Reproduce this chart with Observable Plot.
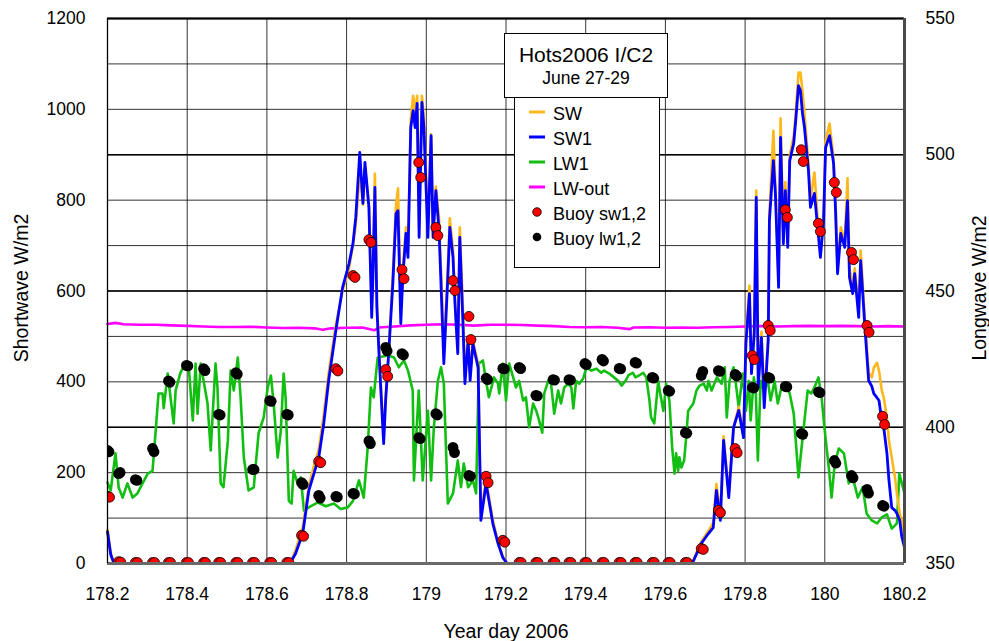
<!DOCTYPE html>
<html>
<head>
<meta charset="utf-8">
<script src="https://cdn.jsdelivr.net/npm/d3@7"></script>
<script src="https://cdn.jsdelivr.net/npm/@observablehq/plot@0.6"></script>
<style>
  html, body { margin: 0; padding: 0; background: #fff; }
  #chart svg { display: block; }
</style>
</head>
<body>
<div id="chart"></div>
<script>
// ---------- DATA ----------
const chartTitle = "Hots2006 I/C2";
const chartSubtitle = "June 27-29";
const xLabel = "Year day 2006";
const leftLabel = "Shortwave W/m2";
const rightLabel = "Longwave W/m2";

const xTicks = [178.2, 178.4, 178.6, 178.8, 179, 179.2, 179.4, 179.6, 179.8, 180, 180.2];
const leftTicks = [0, 200, 400, 600, 800, 1000, 1200];
const leftGrid = [100, 200, 300, 400, 500, 600, 700, 800, 900, 1000, 1100];
const rightTicks = [350, 400, 450, 500, 550];

const legendLabels = ["SW", "SW1", "LW1", "LW-out", "Buoy sw1,2", "Buoy lw1,2"];

// Shortwave (left axis): time, SW and SW1
const swTime = [
  178.200, 178.208, 178.215, 178.233, 178.434, 178.647, 178.660,
  178.672, 178.690, 178.705, 178.718, 178.730, 178.743, 178.755, 178.773, 178.790, 178.806, 178.816, 178.823,
  178.833, 178.841, 178.846, 178.856, 178.863, 178.866, 178.871, 178.876, 178.881, 178.886, 178.893, 178.898, 178.906, 178.916, 178.924, 178.929, 178.936, 178.941, 178.949, 178.954,
  178.961, 178.967, 178.972, 178.977, 178.982, 178.989, 178.994, 179.004, 179.012, 179.017, 179.024, 179.032, 179.039, 179.044, 179.054, 179.059, 179.067, 179.072, 179.079, 179.084,
  179.092, 179.097, 179.105, 179.110, 179.117, 179.130, 179.137, 179.150, 179.167, 179.180, 179.192, 179.203, 179.439, 179.660, 179.670,
  179.690, 179.708, 179.720, 179.728, 179.738, 179.746, 179.759, 179.771, 179.784, 179.796, 179.802, 179.811, 179.816, 179.823, 179.828, 179.833, 179.841, 179.848, 179.858, 179.861,
  179.871, 179.876, 179.884, 179.889, 179.896, 179.901, 179.907, 179.912, 179.922, 179.927, 179.934, 179.939, 179.944, 179.949, 179.959, 179.964, 179.974, 179.982, 179.989, 179.997,
  180.002, 180.012, 180.022, 180.027, 180.032, 180.040, 180.050, 180.057, 180.062, 180.070, 180.075, 180.085, 180.090, 180.100, 180.110, 180.118, 180.123, 180.131, 180.136, 180.143,
  180.148, 180.156, 180.161, 180.168, 180.176, 180.181, 180.188, 180.193, 180.200
];
const sw1Values = [
  70, 20, 3, 0, 0, 0, 3,
  22, 66, 160, 198, 233, 310, 403, 513, 608, 660, 705, 762,
  905, 793, 883, 784, 542, 630, 828, 564, 469, 381, 264, 359, 469, 616, 770, 777, 528, 630, 727, 674,
  960, 997, 960, 1013, 718, 1015, 960, 718, 942, 718, 821, 733, 564, 440, 630, 740, 674, 572, 462, 718,
  528, 396, 491, 403, 484, 431, 95, 176, 88, 44, 13, 0, 0, 0, 5,
  44, 66, 79, 161, 95, 271, 145, 299, 337, 277, 484, 594, 418, 506, 806, 387, 498, 343, 491, 755,
  887, 815, 608, 938, 704, 821, 696, 887, 925, 975, 1052, 1041, 991, 960, 865, 784, 815, 740, 674, 755,
  916, 942, 881, 777, 638, 727, 696, 799, 630, 594, 638, 542, 667, 528, 403, 390, 374, 365, 359, 315,
  299, 242, 183, 123, 117, 110, 95, 60, 35
];
const swValues = [
  75, 25, 3, 0, 0, 0, 4,
  30, 80, 170, 215, 250, 330, 420, 525, 600, 650, 700, 745,
  860, 790, 870, 790, 560, 640, 858, 580, 480, 390, 280, 370, 470, 640, 790, 826, 560, 650, 740, 690,
  980, 1030, 990, 1030, 740, 1030, 980, 740, 945, 730, 830, 760, 600, 460, 650, 760, 690, 580, 470, 740,
  560, 410, 500, 420, 490, 440, 110, 185, 95, 48, 15, 0, 0, 0, 8,
  48, 72, 90, 175, 105, 280, 155, 300, 345, 285, 500, 612, 430, 520, 821, 400, 510, 360, 500, 770,
  953, 830, 620, 980, 720, 840, 710, 900, 940, 990, 1081, 1081, 1040, 990, 880, 800, 861, 760, 690, 770,
  930, 969, 890, 790, 650, 740, 710, 848, 650, 610, 650, 560, 689, 545, 420, 410, 431, 442, 425, 381,
  365, 320, 271, 233, 190, 154, 110, 95, 60
];

// Longwave (right axis): LW1
const lw1Time = [
  178.200, 178.208, 178.220, 178.228, 178.238, 178.250, 178.263, 178.275, 178.288, 178.301, 178.313, 178.321, 178.328, 178.338, 178.341, 178.351,
  178.366, 178.371, 178.383, 178.396, 178.404, 178.414, 178.421, 178.426, 178.434, 178.441, 178.451, 178.459, 178.471, 178.476, 178.484, 178.491,
  178.502, 178.509, 178.517, 178.527, 178.534, 178.542, 178.554, 178.567, 178.579, 178.584, 178.592, 178.602, 178.610, 178.617, 178.627, 178.635,
  178.642, 178.647, 178.655, 178.662, 178.667, 178.677, 178.685, 178.693, 178.705, 178.728, 178.748, 178.768, 178.785, 178.803, 178.816, 178.831,
  178.843, 178.853, 178.861, 178.868, 178.878, 178.904, 178.919, 178.931, 178.944, 178.954, 178.966, 178.969, 178.981, 178.991, 179.004, 179.012,
  179.019, 179.029, 179.037, 179.044, 179.054, 179.067, 179.079, 179.087, 179.094, 179.105, 179.117, 179.125, 179.132, 179.142, 179.150, 179.157,
  179.170, 179.180, 179.183, 179.192, 179.200, 179.208, 179.218, 179.225, 179.233, 179.243, 179.250, 179.258, 179.268, 179.276, 179.283, 179.291,
  179.296, 179.306, 179.313, 179.321, 179.331, 179.338, 179.346, 179.356, 179.364, 179.369, 179.376, 179.384, 179.394, 179.402, 179.414, 179.427,
  179.439, 179.446, 179.459, 179.471, 179.482, 179.490, 179.500, 179.507, 179.518, 179.525, 179.534, 179.544, 179.552, 179.560, 179.564, 179.572,
  179.582, 179.587, 179.595, 179.602, 179.610, 179.617, 179.623, 179.627, 179.632, 179.635, 179.640, 179.647, 179.653, 179.657, 179.670, 179.678,
  179.686, 179.696, 179.704, 179.708, 179.716, 179.729, 179.741, 179.749, 179.754, 179.761, 179.771, 179.776, 179.784, 179.794, 179.802, 179.809,
  179.814, 179.822, 179.827, 179.832, 179.839, 179.847, 179.857, 179.864, 179.874, 179.882, 179.891, 179.899, 179.912, 179.922, 179.934, 179.941,
  179.949, 179.957, 179.966, 179.974, 179.984, 179.992, 179.999, 180.010, 180.017, 180.025, 180.035, 180.048, 180.060, 180.070, 180.083, 180.095,
  180.105, 180.118, 180.131, 180.143, 180.156, 180.168, 180.181, 180.187, 180.200
];
const lw1Values = [
  379.7, 376.8, 390.4, 377.9, 374.2, 379.4, 374.2, 375.7, 379.4, 383, 384, 398.8, 412.4, 412.4, 407, 419.7,
  401.4, 413.5, 420, 423.4, 422, 402.5, 423.4, 405, 423.4, 417.2, 408.7, 391.5, 423.4, 414.6, 379.4, 378,
  395, 420.8, 413.5, 425.6, 411, 389, 376.8, 377.9, 397.7, 400, 403.6, 414.6, 419, 408.7, 388.9, 398.8,
  419.7, 411, 373, 372, 384, 379.4, 381.6, 369.4, 370.6, 372.4, 371, 372, 370, 370.6, 373, 380.5,
  374.2, 392.6, 414.6, 411, 425.6, 426.3, 425.6, 422, 424.5, 420.8, 413.5, 380.5, 413.5, 380.5, 406, 380.5,
  400, 417, 422, 416, 372, 375.7, 387.8, 378, 386.7, 378, 380.5, 375.7, 423.4, 424.5, 417, 411,
  418.3, 416, 412.4, 423.4, 409.8, 423.4, 418.3, 414.6, 417, 409.8, 411, 400, 408.7, 406, 402.5, 398,
  412.4, 417, 416, 405, 413.5, 408.7, 414.6, 416, 414.6, 406.9, 417, 416, 418, 422, 420.8, 421.5,
  420, 420.8, 419.7, 418.3, 417, 415.3, 417, 419, 420, 418.3, 419, 420, 418.3, 409.8, 403.6, 401.4,
  417, 412.4, 406, 416, 409.8, 392.6, 383, 390.4, 384, 389, 385.2, 387.8, 397.7, 406, 408.7, 413.5,
  415.3, 416, 413.5, 417, 413.5, 418.3, 416, 422, 403.6, 417, 422, 417, 407.2, 419.7, 406, 417,
  402.5, 418.3, 412.4, 387.8, 417, 413.5, 417, 409.8, 417, 408.7, 414.6, 416, 412.4, 405, 381.6, 391.5,
  402.5, 413.5, 412.4, 414.6, 418.3, 411, 400, 385.2, 374.2, 386.7, 392.2, 390.4, 379.4, 381.6, 374.2, 378,
  368.3, 365.8, 364.7, 366.9, 368, 362.8, 364.7, 383, 375.7
];

// Longwave (right axis): LW-out
const lwOutTime = [
  178.200, 178.220, 178.240, 178.280, 178.320, 178.360, 178.400, 178.440, 178.480, 178.520, 178.560, 178.600, 178.640, 178.680,
  178.720, 178.740, 178.760, 178.800, 178.840, 178.870, 178.880, 178.920, 178.960, 179.000, 179.040, 179.080, 179.120, 179.160,
  179.200, 179.240, 179.280, 179.320, 179.360, 179.400, 179.440, 179.480, 179.510, 179.520, 179.560, 179.600, 179.640, 179.680,
  179.720, 179.760, 179.800, 179.840, 179.880, 179.920, 179.960, 180.000, 180.040, 180.080, 180.120, 180.160, 180.200
];
const lwOutValues = [
  437.9, 438.3, 437.8, 437.6, 437.6, 437.4, 437.2, 437.0, 436.8, 436.8, 436.9, 436.6, 436.4, 436.5,
  436.3, 435.8, 436.3, 436.5, 436.6, 435.6, 436.6, 437.0, 437.4, 437.6, 437.8, 437.6, 437.3, 437.6,
  437.6, 437.5, 437.3, 437.1, 436.8, 436.7, 436.8, 436.5, 436.0, 436.6, 436.7, 436.5, 436.6, 436.5,
  436.7, 436.8, 437.0, 437.1, 437.0, 437.1, 437.2, 437.1, 437.2, 437.1, 437.0, 437.1, 437.0
];

// Hourly buoy readings
const buoyTime = [
  178.200, 178.228, 178.270, 178.313, 178.353, 178.398, 178.441, 178.479, 178.522, 178.564, 178.607, 178.650,
  178.687, 178.730, 178.773, 178.816, 178.856, 178.898, 178.939, 178.981, 179.024, 179.067, 179.107, 179.150,
  179.192, 179.233, 179.275, 179.318, 179.358, 179.398, 179.441, 179.484, 179.524, 179.567, 179.607, 179.650,
  179.690, 179.733, 179.775, 179.818, 179.858, 179.901, 179.941, 179.984, 180.024, 180.067, 180.106, 180.145
];
const buoySw1 = [
  148, 4, 2, 2, 2, 2, 2, 2, 2, 2, 2, 2,
  62, 225, 429, 634, 713, 427, 647, 883, 740, 623, 544, 192,
  51, 2, 2, 2, 2, 2, 2, 2, 2, 2, 2, 2,
  33, 117, 253, 458, 524, 779, 911, 749, 839, 685, 524, 324
];
const buoySw2 = [
  146, 3, 2, 2, 2, 2, 2, 2, 2, 2, 2, 2,
  60, 222, 424, 630, 707, 412, 627, 850, 722, 601, 493, 178,
  47, 2, 2, 2, 2, 2, 2, 2, 2, 2, 2, 2,
  31, 112, 244, 449, 513, 762, 885, 731, 817, 669, 509, 306
];
const buoyLw1 = [
  391.5, 383, 380.8, 392.2, 417, 422.7, 421.5, 404.7, 420, 384.5, 409.8, 404.7,
  379.7, 375, 374.6, 375.7, 395, 429.3, 427, 396.2, 405, 392.6, 382.3, 418,
  421.6, 422, 411.7, 417.5, 417.5, 423.4, 424.9, 421.6, 423.8, 418.3, 413.5, 398,
  419, 420.8, 419.4, 414.6, 418.3, 415, 397.7, 413, 387.8, 382.3, 377.2, 371.3
];
const buoyLw2 = [
  391, 383.4, 380.5, 391, 416.5, 422.5, 420.8, 404.5, 419.5, 384.5, 409.5, 404.5,
  379, 374, 374.4, 375.5, 394, 428, 426.5, 395.8, 404.5, 390.7, 382, 417.5,
  421.4, 421.5, 411.5, 417.3, 417.3, 423, 424.3, 421.4, 423.5, 418, 413.2, 397.8,
  420.5, 420.5, 418.8, 414.4, 418, 414.8, 397.4, 412.7, 386.8, 381.4, 375.8, 371
];

// ---------- BUILD ----------
const FONT = "'Liberation Sans', Arial, Helvetica, sans-serif";
const C = {sw: "#FFB81C", sw1: "#0000FF", lw1: "#12BE12", lwOut: "#FF00FF", red: "#FF0000", black: "#000000"};

// right axis (350..550) mapped onto left scale (0..1200)
const toLeft = v => (v - 350) * 6;

const swData = swTime.map((t, i) => ({t, sw: swValues[i], sw1: sw1Values[i]}));
const lw1Data = lw1Time.map((t, i) => ({t, v: toLeft(lw1Values[i])}));
const lwOutData = lwOutTime.map((t, i) => ({t, v: toLeft(lwOutValues[i])}));
const buoyData = buoyTime.map((t, i) => ({
  t, s1: buoySw1[i], s2: buoySw2[i], l1: toLeft(buoyLw1[i]), l2: toLeft(buoyLw2[i])
}));

const svg = Plot.plot({
  width: 989,
  height: 641,
  marginTop: 18,
  marginRight: 85,
  marginBottom: 78,
  marginLeft: 107,
  style: {fontFamily: FONT, fontSize: "17.5px", background: "#fff", color: "#000", overflow: "visible"},
  x: {domain: [178.2, 180.2]},
  y: {domain: [0, 1200]},
  marks: [
    Plot.ruleY(leftGrid, {stroke: "#000", strokeOpacity: 0.8, strokeWidth: 1}),
    Plot.ruleY(rightTicks.map(toLeft), {stroke: "#000", strokeWidth: 1.4}),
    Plot.ruleX(xTicks, {stroke: "#000", strokeOpacity: 0.8, strokeWidth: 1}),
    Plot.line(lw1Data, {x: "t", y: "v", stroke: C.lw1, strokeWidth: 2.6, strokeLinejoin: "round"}),
    Plot.line(lwOutData, {x: "t", y: "v", stroke: C.lwOut, strokeWidth: 2.6}),
    Plot.line(swData, {x: "t", y: "sw", stroke: C.sw, strokeWidth: 2.6, strokeLinejoin: "round"}),
    Plot.line(swData, {x: "t", y: "sw1", stroke: C.sw1, strokeWidth: 2.8, strokeLinejoin: "round"}),
    Plot.dot(buoyData, {x: "t", y: "l1", r: 5.4, fill: C.black, stroke: "none", clip: true}),
    Plot.dot(buoyData, {x: "t", y: "l2", r: 5.4, fill: C.black, stroke: "none", dx: 1.5, clip: true}),
    Plot.dot(buoyData, {x: "t", y: "s1", r: 5, fill: C.red, stroke: "#000", strokeWidth: 0.8, clip: true}),
    Plot.dot(buoyData, {x: "t", y: "s2", r: 5, fill: C.red, stroke: "#000", strokeWidth: 0.8, dx: 2, clip: true}),
    // frame
    Plot.ruleY([1200], {stroke: "#000", strokeWidth: 2}),
    Plot.ruleY([0], {stroke: "#6a6a6a", strokeWidth: 3}),
    Plot.ruleX([178.2], {stroke: "#000", strokeWidth: 1.3}),
    Plot.ruleX([180.2], {stroke: "#4a4a4a", strokeWidth: 3}),
    // axes
    Plot.axisX(xTicks, {anchor: "bottom", tickSize: 0, tickPadding: 24, tickFormat: d => String(d), label: null}),
    Plot.axisY(leftTicks, {anchor: "left", tickSize: 0, tickPadding: 22, tickFormat: d => String(d), label: null}),
    Plot.axisY(rightTicks.map(toLeft), {anchor: "right", tickSize: 0, tickPadding: 21, tickFormat: d => String(Math.round(d / 6 + 350)), label: null})
  ]
});

document.getElementById("chart").appendChild(svg);

// axis titles and legend
const s = d3.select(svg);
const ann = s.append("g").attr("font-family", FONT).attr("fill", "#000");
ann.append("text").attr("transform", "translate(21,288) rotate(-90)")
  .attr("text-anchor", "middle").attr("dominant-baseline", "central").attr("font-size", 19.5).text(leftLabel);
ann.append("text").attr("transform", "translate(979,288) rotate(-90)")
  .attr("text-anchor", "middle").attr("dominant-baseline", "central").attr("font-size", 19.5).text(rightLabel);
ann.append("text").attr("x", 506).attr("y", 638).attr("text-anchor", "middle").attr("font-size", 19.5).text(xLabel);

const lg = s.append("g").attr("font-family", FONT).attr("fill", "#000");
lg.append("rect").attr("x", 514.5).attr("y", 97.5).attr("width", 145).attr("height", 170)
  .attr("fill", "#fff").attr("stroke", "#000").attr("stroke-width", 1);
lg.append("rect").attr("x", 504.5).attr("y", 33.5).attr("width", 163).attr("height", 64)
  .attr("fill", "#fff").attr("stroke", "#000").attr("stroke-width", 1);
lg.append("text").attr("x", 586).attr("y", 62).attr("text-anchor", "middle").attr("font-size", 21).text(chartTitle);
lg.append("text").attr("x", 586).attr("y", 84).attr("text-anchor", "middle").attr("font-size", 17.5).text(chartSubtitle);

const rowY = [112, 137, 162, 187, 212, 237];
const kinds = [
  {type: "line", color: C.sw}, {type: "line", color: C.sw1}, {type: "line", color: C.lw1},
  {type: "line", color: C.lwOut}, {type: "dot", color: C.red, stroke: "#000"}, {type: "dot", color: C.black, stroke: "none"}
];
legendLabels.forEach((label, i) => {
  const y = rowY[i], k = kinds[i];
  if (k.type === "line") {
    lg.append("line").attr("x1", 529).attr("x2", 545).attr("y1", y).attr("y2", y)
      .attr("stroke", k.color).attr("stroke-width", 3);
  } else {
    lg.append("circle").attr("cx", 537).attr("cy", y).attr("r", 4.3)
      .attr("fill", k.color).attr("stroke", k.stroke).attr("stroke-width", 0.8);
  }
  lg.append("text").attr("x", 553).attr("y", y + 8).attr("text-anchor", "start")
    .attr("font-size", 18).text(label);
});
</script>
</body>
</html>
